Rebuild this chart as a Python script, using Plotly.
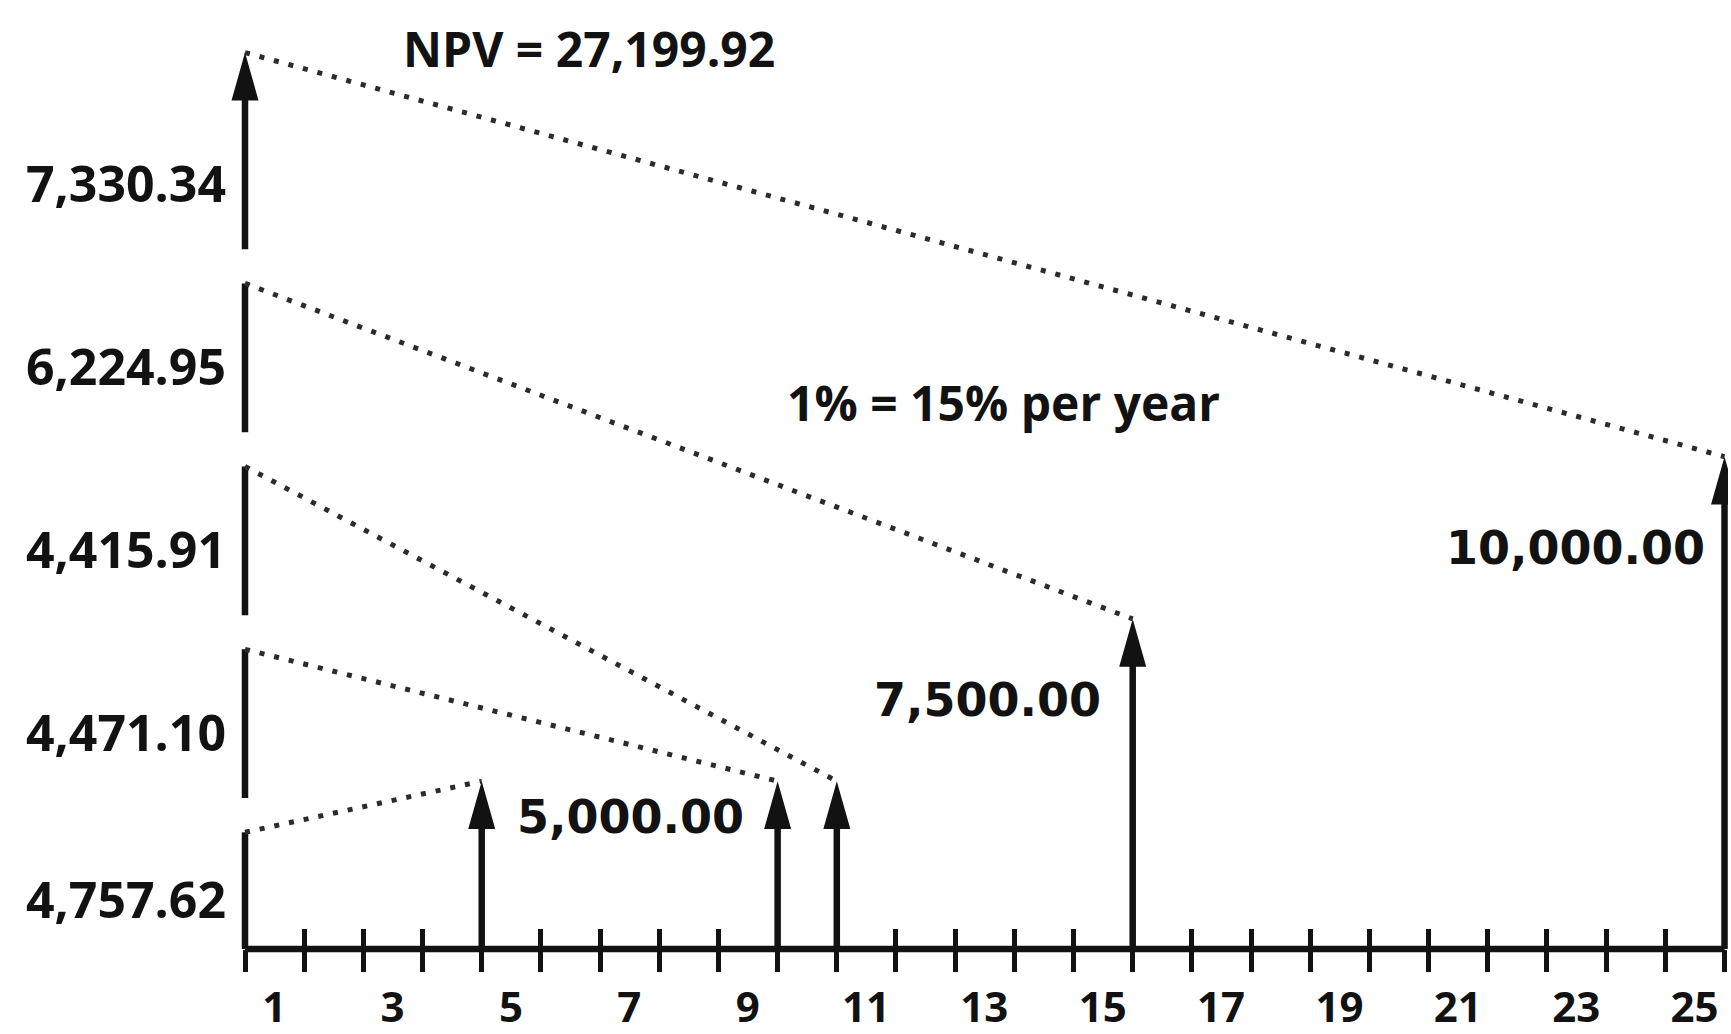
import plotly.graph_objects as go

# ---------------- data ----------------
periods = [4, 9, 10, 15, 25]                                  # months of each cash flow
amounts = [5000.00, 5000.00, 5000.00, 7500.00, 10000.00]      # future amounts
present_values = [4757.62, 4471.10, 4415.91, 6224.95, 7330.34]  # discounted values
npv_total = 27199.92
rate_text = "1% = 15% per year"
axis_periods = list(range(0, 26))
tick_labels = ["1", "3", "5", "7", "9", "11", "13", "15", "17", "19", "21", "23", "25"]

# ---------------- layout constants ----------------
W, H = 1731, 1034
L, R, T, B = 215, 3, 0, 63
PW, PH = W - L - R, H - T - B
X_RANGE = [-0.507, 25.059]
Y_RANGE = [2414, 17037.5]        # scale for the future-amount arrows
Y2_RANGE = [0.3622, 5.549]       # one slot per present value, stacked on the left
INK = "#121212"
FONT = "Open Sans"
FONT_WIDE = "DejaVu Sans"

ux = PW / (X_RANGE[1] - X_RANGE[0])
uy = PH / (Y_RANGE[1] - Y_RANGE[0])
uy2 = PH / (Y2_RANGE[1] - Y2_RANGE[0])

HEAD_LEN_PX, HEAD_HALF_W_PX = 49, 13.5
GAP_PX = 35
LINE_W = 6.5


def y2_to_y(v):
    frac = (v - Y2_RANGE[0]) / (Y2_RANGE[1] - Y2_RANGE[0])
    return Y_RANGE[0] + frac * (Y_RANGE[1] - Y_RANGE[0])


def paper(px, py):
    return (px - L) / PW, 1 - (py - T) / PH


# one stacked slot per present value (slot i spans up to i + 1)
n = len(present_values)
gap = GAP_PX / uy2
tops = [i + 1 for i in range(n)]
bottoms = [Y2_RANGE[0]] + [t + gap for t in tops[:-1]]
head2 = HEAD_LEN_PX / uy2
stack_tip = tops[-1] + head2          # the last slot carries the arrow head
conn_start = tops[:-1] + [stack_tip]

fig = go.Figure()

# stacked PV segments on the left (x = 0)
sx, sy = [], []
for i, (b0, t0) in enumerate(zip(bottoms, tops)):
    sx += [0, 0, None]
    sy += [b0, t0 + (0.5 * head2 if i == n - 1 else 0), None]
fig.add_trace(go.Scatter(x=sx, y=sy, mode="lines", xaxis="x", yaxis="y2",
                         line=dict(color=INK, width=LINE_W), hoverinfo="skip"))

# arrow head on top of the stack
hw = HEAD_HALF_W_PX / ux
fig.add_trace(go.Scatter(x=[0, -hw, hw, 0], y=[stack_tip, tops[-1], tops[-1], stack_tip],
                         mode="lines", fill="toself", fillcolor=INK, line=dict(width=0, color=INK),
                         xaxis="x", yaxis="y2", hoverinfo="skip"))

# cash-flow arrow shafts
ax_, ay_ = [], []
for p, a in zip(periods, amounts):
    ax_ += [p, p, None]
    ay_ += [Y_RANGE[0], a - 0.5 * HEAD_LEN_PX / uy, None]
fig.add_trace(go.Scatter(x=ax_, y=ay_, mode="lines", xaxis="x", yaxis="y",
                         line=dict(color=INK, width=LINE_W), hoverinfo="skip"))

# cash-flow arrow heads
hx, hy = [], []
hl = HEAD_LEN_PX / uy
for p, a in zip(periods, amounts):
    hx += [p, p - hw, p + hw, p, None]
    hy += [a, a - hl, a - hl, a, None]
fig.add_trace(go.Scatter(x=hx, y=hy, mode="lines", fill="toself", fillcolor=INK,
                         line=dict(width=0, color=INK), xaxis="x", yaxis="y", hoverinfo="skip"))

# dotted discounting connectors
cx, cy = [], []
for p, a, c0 in zip(periods, amounts, conn_start):
    cx += [0, p, None]
    cy += [y2_to_y(c0), a, None]
fig.add_trace(go.Scatter(x=cx, y=cy, mode="lines", xaxis="x2", yaxis="y",
                         line=dict(color="#2b2b2b", width=5, dash="5px,10px"), hoverinfo="skip"))

annotations = []
txt_font = dict(family=FONT, size=48, color=INK, weight=700)
pv_font = dict(family=FONT, size=50, color=INK, weight=700)
amt_font = dict(family=FONT_WIDE, size=46, color=INK, weight=700)

# PV labels beside the stack
for b0, t0, v in zip(bottoms, tops, present_values):
    annotations.append(dict(x=0, y=(b0 + t0) / 2, xref="x", yref="y2", text=f"{v:,.2f}",
                            showarrow=False, xanchor="right", yanchor="middle",
                            xshift=-17, yshift=-8, font=pv_font))

# amount labels (once per distinct amount)
label_style = {0: ("left", 33, -36), 3: ("right", -30, -81), 4: ("right", -18, -91)}
for i, (p, a) in enumerate(zip(periods, amounts)):
    if i in label_style:
        anchor, xs, ys = label_style[i]
        annotations.append(dict(x=p, y=a, xref="x", yref="y", text=f"{a:,.2f}",
                                showarrow=False, xanchor=anchor, yanchor="middle",
                                xshift=xs, yshift=ys, font=amt_font))

px_, py_ = paper(589, 50)
annotations.append(dict(x=px_, y=py_, xref="paper", yref="paper", text=f"NPV = {npv_total:,.2f}",
                        showarrow=False, xanchor="center", yanchor="middle", font=txt_font))
px_, py_ = paper(1003, 412)
annotations.append(dict(x=px_, y=py_, xref="paper", yref="paper", text=rate_text,
                        showarrow=False, xanchor="center", yanchor="middle", font=txt_font))

ticktext = [str(v) if str(v) in tick_labels else "" for v in axis_periods]

fig.update_layout(
    width=W, height=H,
    margin=dict(l=L, r=R, t=T, b=B, pad=0),
    paper_bgcolor="white", plot_bgcolor="white",
    showlegend=False,
    annotations=annotations,
    shapes=[dict(type="line", xref="x", yref="paper", x0=axis_periods[0], x1=axis_periods[-1],
                 y0=0, y1=0, line=dict(color=INK, width=LINE_W), layer="above")],
    xaxis=dict(range=X_RANGE, showgrid=False, zeroline=False, showline=False,
               tickmode="array", tickvals=axis_periods, ticktext=ticktext,
               ticks="outside", ticklen=22, tickwidth=5, tickcolor=INK,
               ticklabelshift=int(round(-0.5 * ux)), ticklabelstandoff=0,
               tickfont=dict(family=FONT, size=42, color=INK, weight=700)),
    xaxis2=dict(range=X_RANGE, overlaying="x", anchor="y", side="bottom",
                showgrid=False, zeroline=False, showline=False,
                tickmode="array", tickvals=axis_periods, showticklabels=False,
                ticks="inside", ticklen=20, tickwidth=5, tickcolor=INK),
    yaxis=dict(range=Y_RANGE, visible=False, showgrid=False, zeroline=False),
    yaxis2=dict(range=Y2_RANGE, overlaying="y", visible=False, showgrid=False, zeroline=False),
)

fig.write_html("out.html", config={"displayModeBar": False},
               post_script="document.body.style.margin='0';document.body.style.padding='0';"
                           "document.body.style.overflow='hidden';")
